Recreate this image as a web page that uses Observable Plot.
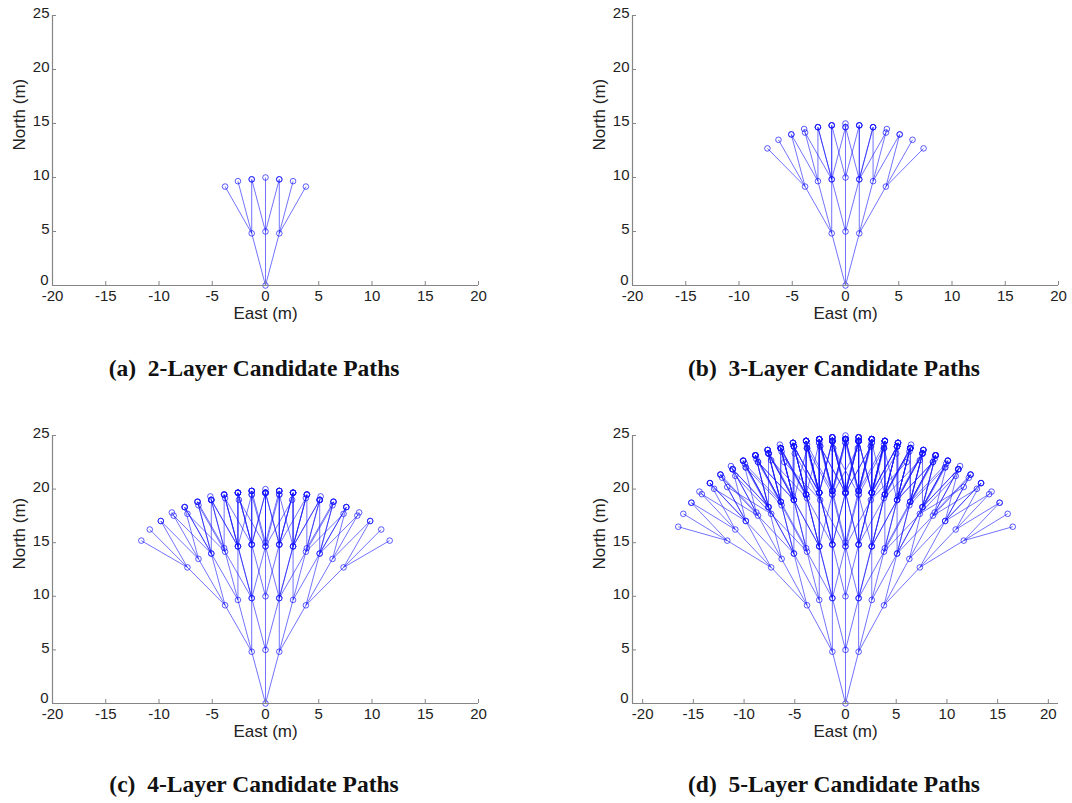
<!DOCTYPE html>
<html>
<head>
<meta charset="utf-8">
<script src="https://cdn.jsdelivr.net/npm/d3@7"></script>
<script src="https://cdn.jsdelivr.net/npm/@observablehq/plot@0.6"></script>
<style>
  html, body { margin: 0; padding: 0; background: #fff; }
  #root { position: relative; width: 1072px; height: 803px; overflow: hidden; }
  .panel { position: absolute; }
  .caption { position: absolute; transform: translate(-50%, -50%); white-space: pre;
    font-family: "Liberation Serif", "Times New Roman", serif; font-weight: bold; font-size: 23.5px; color: #111; }
</style>
</head>
<body>
<div id="root"></div>
<script>
// ---- data ----
const panelLetters = ["(a)", "(b)", "(c)", "(d)"];
const panelLayerCounts = [2, 3, 4, 5];            // number of layers in each candidate-path tree
const stepLengthM = 5;                            // length of one path segment (m)
const headingChangesDeg = [-15, 0, 15];           // heading change options at each node (deg)
const panelXDomains = [[-20, 20], [-20, 20], [-20, 20], [-21, 21]];
const yDomain = [0, 25];
const xTickValues = [-20, -15, -10, -5, 0, 5, 10, 15, 20];
const yTickValues = [0, 5, 10, 15, 20, 25];
const xAxisLabel = "East (m)";
const yAxisLabel = "North (m)";
const captionText = "Layer Candidate Paths";

// layout (page pixels)
const panelLeft = [0, 580, 0, 580];
const panelTop = [0, 0, 420, 420];
const panelHeight = [325, 325, 323, 323];
const captionPos = [[254, 368], [834, 368], [254, 784], [834, 784]];

const pathColor = "#1414ff";
const axisColor = "#858585";
const fmt = d => String(d);   // plain hyphen minus, as in the figure

// expand the tree of candidate paths: every node branches with each heading change
function buildTree(nLayers) {
  const segments = [];
  const nodes = [{x: 0, y: 0}];
  let frontier = [{x: 0, y: 0, h: 0}];
  for (let layer = 1; layer <= nLayers; layer++) {
    const next = [];
    for (const n of frontier) {
      for (const dh of headingChangesDeg) {
        const h = n.h + dh;
        const rad = h * Math.PI / 180;
        const m = {x: n.x + stepLengthM * Math.sin(rad), y: n.y + stepLengthM * Math.cos(rad), h};
        segments.push({x1: n.x, y1: n.y, x2: m.x, y2: m.y});
        nodes.push(m);
        next.push(m);
      }
    }
    frontier = next;
  }
  return {segments, nodes};
}

const root = document.getElementById("root");

panelLayerCounts.forEach((nLayers, i) => {
  const {segments, nodes} = buildTree(nLayers);
  const W = 490, H = panelHeight[i];
  const mL = 52, mR = 12, mT = 15, mB = 40;
  const plotH = H - mT - mB, plotW = W - mL - mR;
  const xd = panelXDomains[i];
  const chart = Plot.plot({
    width: W, height: H,
    marginLeft: mL, marginRight: mR, marginTop: mT, marginBottom: mB,
    x: {domain: xd},
    y: {domain: yDomain},
    style: {fontFamily: "'Liberation Sans', Arial, sans-serif", fontSize: "15px", color: "#222", background: "transparent", overflow: "visible"},
    marks: [
      Plot.link(segments, {x1: "x1", y1: "y1", x2: "x2", y2: "y2", stroke: pathColor, strokeWidth: 0.6}),
      Plot.dot(nodes, {x: "x", y: "y", r: 2.8, stroke: pathColor, strokeWidth: 0.7, fill: "none"}),
      Plot.ruleY([yDomain[0]], {stroke: axisColor, strokeWidth: 1.2}),
      Plot.ruleX([xd[0]], {stroke: axisColor, strokeWidth: 1.2}),
      Plot.tickX(xTickValues, {x: d => d, insetTop: plotH - 4, stroke: axisColor}),
      Plot.tickY(yTickValues, {y: d => d, insetRight: plotW - 4, stroke: axisColor}),
      Plot.axisX(xTickValues, {tickSize: 0, tickPadding: 5, tickFormat: fmt, label: null, fill: "#222", fontSize: 15}),
      Plot.axisY(yTickValues.filter(d => d !== yDomain[0]), {tickSize: 0, tickPadding: 3, tickFormat: fmt, label: null, fill: "#222", fontSize: 15, dy: -2}),
      Plot.axisY([yDomain[0]], {tickSize: 0, tickPadding: 4, tickFormat: fmt, label: null, fill: "#222", fontSize: 15, dy: -5}),
      Plot.text([xAxisLabel], {frameAnchor: "bottom", dy: 33, text: d => d, fill: "#222", fontSize: 17}),
      Plot.text([yAxisLabel], {frameAnchor: "left", dx: -33, rotate: -90, text: d => d, fill: "#222", fontSize: 17})
    ]
  });
  chart.classList.add("panel");
  chart.style.left = panelLeft[i] + "px";
  chart.style.top = panelTop[i] + "px";
  root.appendChild(chart);

  const cap = document.createElement("div");
  cap.className = "caption";
  cap.textContent = `${panelLetters[i]}  ${nLayers}-${captionText}`;
  cap.style.left = captionPos[i][0] + "px";
  cap.style.top = captionPos[i][1] + "px";
  root.appendChild(cap);
});
</script>
</body>
</html>
